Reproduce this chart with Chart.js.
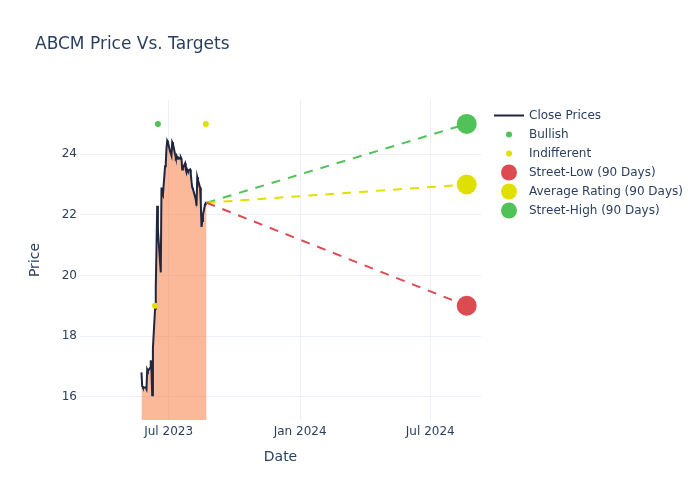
<!DOCTYPE html>
<html>
<head>
<meta charset="utf-8">
<script src="https://cdn.jsdelivr.net/npm/chart.js@4"></script>
<style>
  html, body { margin: 0; padding: 0; background: #fff; }
  #wrap { width: 700px; height: 500px; }
</style>
</head>
<body>
<div id="wrap"><canvas id="priceChart" width="700" height="500"></canvas></div>
<script>
// Close prices (trading days)
const closeDates = [
    "2023-05-24", "2023-05-25", "2023-05-26", "2023-05-30", "2023-05-31",
    "2023-06-01", "2023-06-02", "2023-06-05", "2023-06-06", "2023-06-07", "2023-06-08", "2023-06-09",
    "2023-06-12", "2023-06-13", "2023-06-14", "2023-06-15", "2023-06-16", "2023-06-20", "2023-06-21",
    "2023-06-22", "2023-06-23", "2023-06-26", "2023-06-27", "2023-06-28", "2023-06-29", "2023-06-30",
    "2023-07-03", "2023-07-05", "2023-07-06", "2023-07-07", "2023-07-10", "2023-07-11", "2023-07-12",
    "2023-07-13", "2023-07-14", "2023-07-17", "2023-07-18", "2023-07-19", "2023-07-20", "2023-07-21",
    "2023-07-24", "2023-07-25", "2023-07-26", "2023-07-27", "2023-07-28", "2023-07-31",
    "2023-08-01", "2023-08-02", "2023-08-03", "2023-08-04", "2023-08-07", "2023-08-08", "2023-08-09",
    "2023-08-10", "2023-08-11", "2023-08-14", "2023-08-15", "2023-08-16", "2023-08-17", "2023-08-18",
    "2023-08-21", "2023-08-22", "2023-08-23"
];
const closePrices = [
    16.8, 16.35, 16.3, 16.3, 16.25,
    16.9, 16.85, 16.95, 17.2, 16.9, 16.05, 17.6,
    18.9, 19.6, 20.9, 22.3, 21.5, 20.1, 22.9,
    22.7, 22.65, 23.6, 23.7, 24.2, 24.45, 24.4,
    24.1, 23.95, 24.4, 24.35, 24.0, 23.9, 23.95,
    23.85, 23.9, 23.85, 23.9, 23.85, 23.5, 23.55,
    23.7, 23.5, 23.4, 23.5, 23.45, 23.5,
    23.35, 23.1, 22.9, 22.85, 22.6, 22.5, 22.3,
    23.25, 23.15, 22.9, 22.4, 21.6, 21.8, 22.0,
    22.35, 22.4, 22.4
];

// Analyst ratings
const bullishDates = ["2023-06-16"];
const bullishTargets = [25];
const indifferentDates = ["2023-06-12", "2023-08-22"];
const indifferentTargets = [19, 25];

// 90-day targets, about one year after last close
const targetDate = "2024-08-21";
const streetLow = 19;
const averageRating = 23;
const streetHigh = 25;

const xTickDates = ["2023-07-01", "2024-01-01", "2024-07-01"];
const yTicks = [16, 18, 20, 22, 24];

const textColor = "#2a3f5f";
const gridColor = "#ebf0f8";
const red = "#dc4b52";
const yellow = "#e0e000";
const green = "#50c257";
const months = ["Jan", "Feb", "Mar", "Apr", "May", "Jun", "Jul", "Aug", "Sep", "Oct", "Nov", "Dec"];

function t(s) {
    const p = s.split("-").map(Number);
    return Date.UTC(p[0], p[1] - 1, p[2]);
}

const lastDate = closeDates[closeDates.length - 1];
const lastClose = closePrices[closePrices.length - 1];

const closePoints = closeDates.map((d, i) => ({ x: t(d), y: closePrices[i] }));
const bullishPoints = bullishDates.map((d, i) => ({ x: t(d), y: bullishTargets[i] }));
const indifferentPoints = indifferentDates.map((d, i) => ({ x: t(d), y: indifferentTargets[i] }));

function targetLine(value, color) {
    return {
        type: "line",
        data: [{ x: t(lastDate), y: lastClose }, { x: t(targetDate), y: value }],
        borderColor: color,
        borderWidth: 2,
        borderDash: [9, 8],
        pointRadius: 0,
        fill: false,
        order: 5
    };
}

function targetPoint(value, color) {
    return {
        type: "scatter",
        data: [{ x: t(targetDate), y: value }],
        backgroundColor: color,
        borderWidth: 0,
        pointRadius: 10,
        pointHoverRadius: 10,
        order: 1
    };
}

// Titles and legend drawn by hand (Plotly-like layout)
const decorations = {
    id: "decorations",
    afterDraw(chart) {
        const ctx = chart.ctx;
        const area = chart.chartArea;
        ctx.save();
        ctx.fillStyle = textColor;
        ctx.textBaseline = "middle";

        ctx.font = "17px 'DejaVu Sans', sans-serif";
        ctx.textAlign = "left";
        ctx.fillText("ABCM Price Vs. Targets", 35, 45);

        ctx.font = "14px 'DejaVu Sans', sans-serif";
        ctx.textAlign = "center";
        ctx.fillText("Date", (area.left + area.right) / 2, 457);
        ctx.save();
        ctx.translate(35, (area.top + area.bottom) / 2);
        ctx.rotate(-Math.PI / 2);
        ctx.fillText("Price", 0, 0);
        ctx.restore();

        const items = [
            { label: "Close Prices", kind: "line", color: "#1e2640" },
            { label: "Bullish", kind: "dot", color: green, r: 3 },
            { label: "Indifferent", kind: "dot", color: yellow, r: 3 },
            { label: "Street-Low (90 Days)", kind: "dot", color: red, r: 8 },
            { label: "Average Rating (90 Days)", kind: "dot", color: yellow, r: 8 },
            { label: "Street-High (90 Days)", kind: "dot", color: green, r: 8 }
        ];
        ctx.font = "12px 'DejaVu Sans', sans-serif";
        ctx.textAlign = "left";
        items.forEach((it, i) => {
            const y = 115.5 + i * 19;
            if (it.kind === "line") {
                ctx.strokeStyle = it.color;
                ctx.lineWidth = 2;
                ctx.beginPath();
                ctx.moveTo(494, y);
                ctx.lineTo(524, y);
                ctx.stroke();
            } else {
                ctx.fillStyle = it.color;
                ctx.beginPath();
                ctx.arc(509, y, it.r, 0, Math.PI * 2);
                ctx.fill();
            }
            ctx.fillStyle = textColor;
            ctx.fillText(it.label, 529, y);
        });
        ctx.restore();
    }
};

const chartCanvas = document.getElementById("priceChart");
const priceChart = new Chart(chartCanvas, {
    data: {
        datasets: [
            {
                type: "line",
                label: "Close Prices",
                data: closePoints,
                borderColor: "#1e2640",
                borderWidth: 2,
                backgroundColor: "rgba(248, 128, 70, 0.55)",
                fill: "start",
                pointRadius: 0,
                tension: 0,
                order: 10
            },
            {
                type: "scatter",
                label: "Bullish",
                data: bullishPoints,
                backgroundColor: green,
                borderWidth: 0,
                pointRadius: 3,
                order: 2
            },
            {
                type: "scatter",
                label: "Indifferent",
                data: indifferentPoints,
                backgroundColor: yellow,
                borderWidth: 0,
                pointRadius: 3,
                order: 2
            },
            targetLine(streetLow, red),
            targetLine(averageRating, yellow),
            targetLine(streetHigh, green),
            targetPoint(streetLow, red),
            targetPoint(averageRating, yellow),
            targetPoint(streetHigh, green)
        ]
    },
    options: {
        responsive: false,
        animation: false,
        layout: { padding: { top: 100, right: 219, bottom: 0, left: 0 } },
        plugins: {
            legend: { display: false },
            tooltip: { enabled: false }
        },
        scales: {
            x: {
                type: "linear",
                min: t("2023-02-27"),
                max: t("2024-09-10"),
                grid: { color: gridColor, drawTicks: false },
                border: { display: false },
                afterBuildTicks: (scale) => {
                    scale.ticks = xTickDates.map(d => ({ value: t(d) }));
                },
                afterFit: (scale) => { scale.height = 80; },
                ticks: {
                    padding: 5,
                    maxRotation: 0,
                    color: textColor,
                    font: { family: "'DejaVu Sans', sans-serif", size: 12 },
                    callback: (v) => {
                        const d = new Date(v);
                        return months[d.getUTCMonth()] + " " + d.getUTCFullYear();
                    }
                }
            },
            y: {
                type: "linear",
                min: 15.23,
                max: 25.79,
                grid: { color: gridColor, drawTicks: false },
                border: { display: false },
                afterBuildTicks: (scale) => {
                    scale.ticks = yTicks.map(v => ({ value: v }));
                },
                afterFit: (scale) => { scale.width = 80; },
                ticks: {
                    padding: 3,
                    color: textColor,
                    font: { family: "'DejaVu Sans', sans-serif", size: 12 }
                }
            }
        }
    },
    plugins: [decorations]
});
</script>
</body>
</html>
